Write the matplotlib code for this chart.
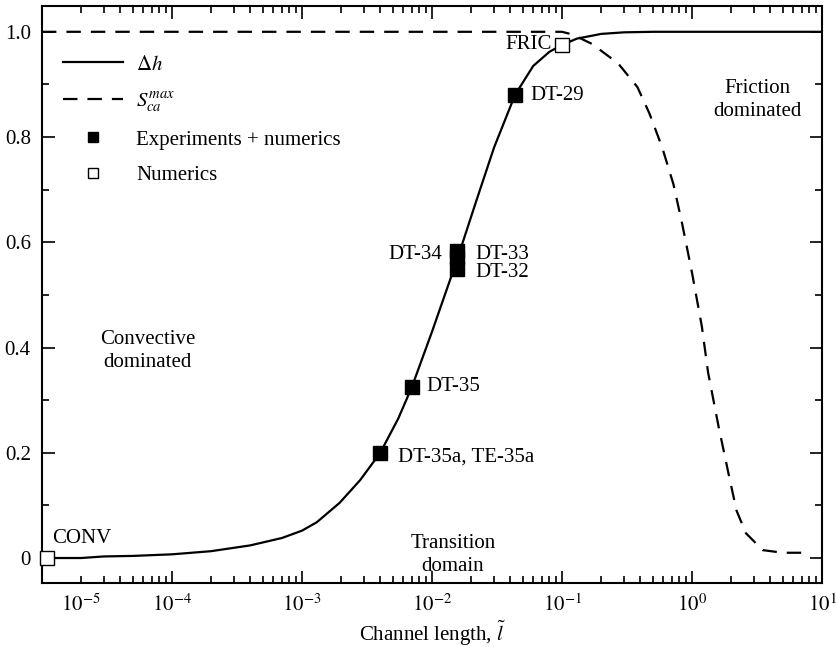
import matplotlib
matplotlib.use('Agg')
import matplotlib.pyplot as plt
from matplotlib.lines import Line2D
from matplotlib.ticker import NullFormatter
import numpy as np

plt.rcParams['font.family'] = ['Liberation Serif', 'DejaVu Serif']
plt.rcParams['mathtext.fontset'] = 'stix'
plt.rcParams['font.size'] = 15

# dimensionless head drop vs channel length
l_dh = [1e-5, 2e-5, 3e-5, 5e-5, 1e-4, 2e-4, 4e-4, 7e-4, 1e-3, 1.3e-3, 1.95e-3,
        2.8e-3, 4e-3, 5.5e-3, 7e-3, 1e-2, 1.55e-2, 2.2e-2, 3e-2, 4.35e-2, 6e-2,
        8e-2, 0.1, 0.13, 0.2, 0.3, 0.5, 1.0, 10.0]
dh = [0.0, 0.0, 0.003, 0.004, 0.007, 0.013, 0.024, 0.038, 0.052, 0.068, 0.105,
      0.148, 0.2, 0.265, 0.325, 0.43, 0.565, 0.68, 0.78, 0.88, 0.935,
      0.962, 0.975, 0.987, 0.996, 0.999, 1.0, 1.0, 1.0]

# maximum cavity saturation
l_s = [1e-5, 1e-3, 0.1, 0.12, 0.17, 0.27, 0.38, 0.47, 0.59, 0.72, 0.84, 1.0,
       1.19, 1.33, 1.6, 1.91, 2.2, 2.6, 3.5, 5.0, 8.0]
s_max = [1.0, 1.0, 1.0, 0.995, 0.977, 0.94, 0.895, 0.845, 0.78, 0.71, 0.635, 0.542,
         0.44, 0.352, 0.25, 0.16, 0.09, 0.047, 0.015, 0.01, 0.01]

# cases with experiments + numerics
exp_names = ['DT-35a, TE-35a', 'DT-35', 'DT-34', 'DT-33', 'DT-32', 'DT-29']
exp_l = [0.004, 0.007, 0.0155, 0.0157, 0.0157, 0.0435]
exp_dh = [0.2, 0.325, 0.583, 0.572, 0.55, 0.88]

# numerics only
num_names = ['CONV', 'FRIC']
num_l = [1.1e-5, 0.1]
num_dh = [0.0, 0.975]

fig = plt.figure(figsize=(8.36, 6.47), dpi=100)
ax = fig.add_axes([0.0502, 0.0989, 0.9331, 0.8918])

ax.plot(l_dh, dh, color='black', lw=1.6, zorder=2)
ax.plot(l_s, s_max, color='black', lw=1.6, ls=(0, (6.5, 4.5)), zorder=2)
ax.plot(exp_l, exp_dh, 's', color='black', ms=10, zorder=3)
ax.plot(num_l, num_dh, 's', mfc='white', mec='black', mew=1.0, ms=10, zorder=3,
        clip_on=False)

# case labels
ax.text(0.0055, 0.192, 'DT-35a, TE-35a', ha='left', va='center')
ax.text(0.0091, 0.325, 'DT-35', ha='left', va='center')
ax.text(0.0119, 0.576, 'DT-34', ha='right', va='center')
ax.text(0.0214, 0.576, 'DT-33', ha='left', va='center')
ax.text(0.0214, 0.542, 'DT-32', ha='left', va='center')
ax.text(0.0567, 0.878, 'DT-29', ha='left', va='center')
ax.text(0.084, 0.975, 'FRIC', ha='right', va='center')
ax.text(1.2e-5, 0.038, 'CONV', ha='left', va='center')

# regime labels
ax.text(6.5e-5, 0.393, 'Convective\ndominated', ha='center', va='center',
        linespacing=1.3)
ax.text(0.0145, 0.005, 'Transition\ndomain', ha='center', va='center',
        linespacing=1.3)
ax.text(3.2, 0.87, 'Friction\ndominated', ha='center', va='center',
        linespacing=1.3)

ax.set_xscale('log')
ax.set_xlim(1e-5, 10)
ax.set_ylim(-0.0475, 1.049)

major_x = [1e-4, 1e-3, 1e-2, 1e-1, 1e0, 1e1]
major_lab = ['$10^{-4}$', '$10^{-3}$', '$10^{-2}$', '$10^{-1}$', '$10^{0}$', '$10^{1}$']
ax.set_xticks(major_x, labels=major_lab)
minor_x = [m * 10.0 ** e for e in range(-5, 1) for m in range(2, 10)]
minor_lab = ['$10^{-5}$' if abs(v - 2e-5) < 1e-9 else '' for v in minor_x]
ax.set_xticks(minor_x, labels=minor_lab, minor=True)

ax.set_yticks([0, 0.2, 0.4, 0.6, 0.8, 1.0],
              labels=['0', '0.2', '0.4', '0.6', '0.8', '1.0'])
ax.set_yticks([0.1, 0.3, 0.5, 0.7, 0.9], minor=True)
ax.yaxis.set_minor_formatter(NullFormatter())

ax.tick_params(which='both', direction='in', top=True, right=True, width=1.2,
               labelsize=15, pad=8)
ax.tick_params(which='major', length=9)
ax.tick_params(which='minor', length=5)
for sp in ax.spines.values():
    sp.set_linewidth(1.5)

ax.set_xlabel(r'Channel length, $\tilde{l}$', fontsize=15, labelpad=2)

handles = [
    Line2D([], [], color='black', lw=1.6),
    Line2D([], [], color='black', lw=1.6, ls=(0, (6.5, 4.5))),
    Line2D([], [], marker='s', ls='none', color='black', ms=7),
    Line2D([], [], marker='s', ls='none', mfc='white', mec='black', mew=1.0, ms=7),
]
labels = [r'$\Delta h$', r'$S_{ca}^{max}$', 'Experiments + numerics', 'Numerics']
ax.legend(handles, labels, loc='upper left', bbox_to_anchor=(0.027, 0.915),
          frameon=False, borderaxespad=0, borderpad=0, handlelength=2.9,
          handletextpad=0.6, labelspacing=0.75, fontsize=15)

fig.savefig('out.png', dpi=100)
